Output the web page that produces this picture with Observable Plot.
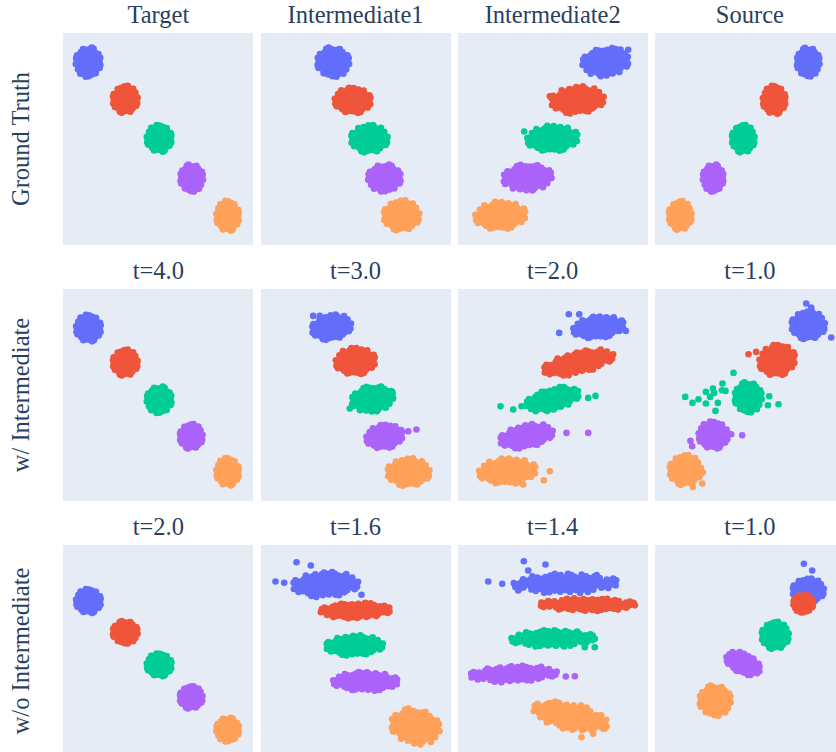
<!DOCTYPE html>
<html>
<head>
<meta charset="utf-8">
<script src="https://cdn.jsdelivr.net/npm/d3@7"></script>
<script src="https://cdn.jsdelivr.net/npm/@observablehq/plot@0.6"></script>
<style>
  html, body { margin: 0; padding: 0; overflow: hidden; background: #fff; }
  #grid { position: relative; width: 845px; height: 757px; }
  .panel { position: absolute; }
  .panel svg { display: block; }
  .label {
    position: absolute; white-space: nowrap; color: #2a3f5f;
    font-family: 'Liberation Serif', 'Times New Roman', serif; font-size: 24.5px; line-height: 24px;
  }
  .title { text-align: center; }
  .side { transform: translate(-50%, -50%) rotate(-90deg); }
</style>
</head>
<body>
<div id="grid"></div>
<script>
// Grid labels
const rowLabels = ["Ground Truth", "w/ Intermediate", "w/o Intermediate"];
const panelTitles = [
  ["Target", "Intermediate1", "Intermediate2", "Source"],
  ["t=4.0", "t=3.0", "t=2.0", "t=1.0"],
  ["t=2.0", "t=1.6", "t=1.4", "t=1.0"]
];

// One colour per mode (trace order: blue, red, green, purple, orange)
const modeColors = ["#636efa", "#ef553b", "#00cc96", "#ab63fa", "#ffa15a"];

// Per panel, per mode: [centre x, centre y, spread x, spread y, tilt]
const groundTruthClusters = [
  [[-7.03, 7.75, 1.17, 1.42, 0], [-3.33, 4.0, 1.17, 1.32, 0], [0.07, 0.1, 1.17, 1.3, 0], [3.32, -3.85, 1.07, 1.32, 0], [6.92, -7.65, 1.07, 1.47, 0]],
  [[-2.33, 7.75, 1.5, 1.42, 0], [-0.37, 3.9, 1.7, 1.24, 0], [1.28, 0.07, 1.72, 1.34, 0], [2.8, -3.85, 1.54, 1.32, 0], [4.5, -7.6, 1.67, 1.47, 0]],
  [[5.2, 7.75, 2.17, 1.35, 0.05], [2.4, 3.95, 2.47, 1.3, 0.05], [-0.1, 0.1, 2.37, 1.25, 0.05], [-2.6, -3.8, 2.27, 1.28, 0.05], [-5.3, -7.6, 2.37, 1.35, 0.05]],
  [[5.77, 7.75, 1.07, 1.4, 0], [2.37, 3.95, 1.07, 1.37, 0], [-0.73, 0.07, 1.07, 1.34, 0], [-3.73, -3.85, 0.97, 1.32, 0], [-7.03, -7.6, 1.07, 1.4, 0]]
];
const withIntermediateClusters = [
  [[-7.0, 6.73, 1.17, 1.3, 0], [-3.33, 3.28, 1.17, 1.27, 0], [0.07, -0.42, 1.17, 1.29, 0], [3.27, -4.1, 1.07, 1.2, 0], [6.92, -7.64, 1.07, 1.34, 0]],
  [[-2.5, 6.83, 1.84, 1.2, 0.1], [-0.1, 3.43, 1.85, 1.3, 0.05], [1.6, -0.34, 1.95, 1.25, 0.1], [2.8, -4.1, 1.7, 1.15, 0.1], [5.2, -7.67, 1.97, 1.34, 0]],
  [[4.5, 6.83, 2.37, 1.05, 0.1], [2.5, 3.28, 3.27, 1.05, 0.2], [-0.1, -0.37, 2.47, 1.05, 0.2], [-2.7, -4.07, 2.47, 1.1, 0.15], [-4.6, -7.57, 2.67, 1.25, 0.05]],
  [[5.77, 7.03, 1.57, 1.37, 0], [2.67, 3.53, 1.67, 1.5, 0.1], [-0.23, -0.17, 1.27, 1.47, 0], [-3.73, -3.97, 1.37, 1.32, 0], [-6.53, -7.47, 1.47, 1.47, 0]]
];
const withoutIntermediateClusters = [
  [[-7.0, 5.03, 1.17, 1.17, 0], [-3.33, 1.93, 1.17, 1.1, 0], [0.07, -1.35, 1.17, 1.12, 0], [3.27, -4.6, 1.07, 1.09, 0], [6.92, -7.8, 1.07, 1.17, 0]],
  [[-3.1, 6.7, 3.07, 1.2, 0.03], [-0.1, 4.1, 3.27, 0.75, 0.02], [-0.2, 0.6, 2.67, 0.97, 0.02], [0.9, -3.0, 3.04, 0.92, 0], [5.9, -7.5, 2.27, 1.7, -0.1]],
  [[1.2, 6.8, 4.87, 0.97, 0.02], [3.4, 4.7, 4.47, 0.62, 0], [-0.1, 1.3, 3.87, 0.82, 0.02], [-4.0, -2.25, 4.07, 0.77, 0.03], [1.7, -6.5, 3.47, 1.3, -0.2]],
  [[5.77, 6.1, 1.47, 1.17, 0], [5.27, 4.8, 0.92, 0.87, 0], [2.47, 1.6, 1.27, 1.32, 0], [-0.73, -1.2, 1.57, 1.0, -0.3], [-3.53, -4.9, 1.47, 1.47, 0]]
];

// Stray samples outside the cluster bodies: [row, column, mode, x, y]
const strayPoints = [
  [0, 2, 0, 6.7, 9.0], [0, 2, 0, 7.47, 8.97], [0, 2, 1, -0.37, 4.33], [0, 2, 2, -2.93, 0.8],
  [1, 1, 0, -4.33, 7.96], [1, 1, 0, -3.67, 7.96], [1, 1, 2, 3.57, 0.36], [1, 1, 2, -0.67, -1.3],
  [1, 1, 3, 5.17, -3.57], [1, 1, 3, 6.0, -3.4],
  [1, 2, 0, 0.57, 6.26], [1, 2, 0, 1.53, 8.13], [1, 2, 0, 2.57, 8.13], [1, 2, 0, 7.23, 6.46],
  [1, 2, 2, -5.3, -1.07], [1, 2, 2, -4.03, -1.4], [1, 2, 2, -3.2, -1.07], [1, 2, 2, 3.47, -0.24], [1, 2, 2, 4.2, -0.04],
  [1, 2, 3, 1.3, -3.74], [1, 2, 3, 3.47, -3.74],
  [1, 2, 4, -0.37, -7.57], [1, 2, 4, -0.97, -8.47], [1, 2, 4, -3.03, -8.9],
  [1, 3, 0, 5.57, 9.2], [1, 3, 0, 6.07, 8.8], [1, 3, 0, 8.07, 5.8],
  [1, 3, 1, -0.2, 4.13], [1, 3, 1, 0.57, 4.36],
  [1, 3, 2, -6.53, -0.14], [1, 3, 2, -5.8, -0.74], [1, 3, 2, -5.2, -0.37], [1, 3, 2, -4.46, 0.36],
  [1, 3, 2, -4.46, -0.8], [1, 3, 2, -4.03, -0.14], [1, 3, 2, -3.76, 0.7], [1, 3, 2, -3.63, 0.26],
  [1, 3, 2, -3.26, -0.74], [1, 3, 2, -3.5, -1.54], [1, 3, 2, -2.8, 1.2], [1, 3, 2, -2.86, 0.53],
  [1, 3, 2, -2.5, 0.46], [1, 3, 2, -1.7, 2.26], [1, 3, 2, 1.87, -0.07], [1, 3, 2, 1.74, -0.97], [1, 3, 2, 2.8, -0.87],
  [1, 3, 3, -0.83, -3.97], [1, 3, 3, -1.93, -3.87], [1, 3, 3, -6.0, -4.54], [1, 3, 3, -5.83, -5.07],
  [1, 3, 4, -4.76, -7.7], [1, 3, 4, -4.83, -8.8], [1, 3, 4, -5.76, -9.14],
  [2, 1, 0, -8.1, 7.0], [2, 1, 0, -7.23, 6.87], [2, 1, 0, -6.0, 8.93], [2, 1, 0, -4.57, 8.6], [2, 1, 0, 0.5, 5.67],
  [2, 2, 0, -6.53, 7.0], [2, 2, 0, -5.13, 6.77], [2, 2, 0, -2.97, 9.03], [2, 2, 0, -0.8, 8.7], [2, 2, 0, -3.53, 6.1], [2, 2, 0, -2.53, 8.1],
  [2, 2, 2, 4.13, 1.27], [2, 2, 2, 4.13, 0.43], [2, 2, 2, 3.13, 0.43],
  [2, 2, 3, 1.23, -2.5], [2, 2, 3, 2.13, -2.47],
  [2, 2, 4, 3.97, -8.23], [2, 2, 4, 4.97, -7.73], [2, 2, 4, 2.8, -8.57],
  [2, 3, 0, 5.34, 8.77], [2, 3, 0, 6.17, 8.1]
];

// Unit-disk layout used to spread each cluster's samples (ragged rim included)
const blobTemplate = [
  [0.02, 0.01], [-0.2, 0.03], [0.19, -0.02], [-0.41, -0.01], [0.41, 0.02], [-0.59, 0.02], [0.58, -0.03], [-0.78, -0.02], [0.79, 0.01], [-0.96, 0.03], [0.97, -0.02],
  [-0.91, 0.19], [-0.69, 0.16], [-0.52, 0.18], [-0.29, 0.15], [-0.11, 0.19], [0.12, 0.16], [0.31, 0.18], [0.49, 0.15], [0.72, 0.19], [0.9, 0.17],
  [-0.88, -0.18], [-0.71, -0.15], [-0.49, -0.19], [-0.31, -0.16], [-0.09, -0.18], [0.1, -0.15], [0.29, -0.19], [0.52, -0.17], [0.69, -0.16], [0.93, -0.19],
  [-0.82, 0.36], [-0.6, 0.33], [-0.41, 0.37], [-0.19, 0.34], [0.01, 0.36], [0.21, 0.33], [0.39, 0.37], [0.62, 0.34], [0.85, 0.31],
  [-0.86, -0.32], [-0.62, -0.36], [-0.39, -0.33], [-0.21, -0.37], [-0.02, -0.34], [0.18, -0.36], [0.41, -0.33], [0.6, -0.37], [0.8, -0.35],
  [-0.72, 0.5], [-0.49, 0.54], [-0.32, 0.51], [-0.1, 0.53], [0.11, 0.5], [0.29, 0.54], [0.51, 0.52], [0.7, 0.49],
  [-0.7, -0.54], [-0.51, -0.5], [-0.28, -0.53], [-0.12, -0.51], [0.09, -0.54], [0.31, -0.5], [0.48, -0.53], [0.74, -0.51],
  [-0.58, 0.67], [-0.41, 0.71], [-0.2, 0.68], [0.02, 0.7], [0.19, 0.67], [0.42, 0.71], [0.6, 0.68],
  [-0.61, -0.7], [-0.39, -0.67], [-0.22, -0.71], [-0.01, -0.68], [0.21, -0.7], [0.38, -0.66], [0.57, -0.69],
  [-0.31, 0.86], [-0.1, 0.89], [0.12, 0.85], [0.33, 0.88],
  [-0.33, -0.87], [-0.11, -0.84], [0.09, -0.89], [0.29, -0.85],
  [1.04, 0.22], [-1.03, -0.27], [0.64, 0.8], [-0.44, -0.92], [0.05, 1.0], [0.88, -0.56], [-0.87, 0.52],
  [0.98, 0.42], [-0.95, -0.47], [0.46, -0.93], [-0.68, 0.82], [1.03, -0.3], [-0.22, 1.03], [0.3, -1.01], [-1.06, 0.14]
];

const clusterSets = [groundTruthClusters, withIntermediateClusters, withoutIntermediateClusters];

// Samples in trace order so later modes sit on top of earlier ones
const samples = [];
modeColors.forEach((color, k) => {
  clusterSets.forEach((panels, row) => {
    panels.forEach((clusters, col) => {
      const [cx, cy, sx, sy, tilt] = clusters[k];
      const fu = (k + col) % 2 ? -1 : 1;
      const fv = (k + row) % 3 ? 1 : -1;
      for (const [u, v] of blobTemplate) {
        const du = sx * u * fu;
        samples.push({row, col, color, x: cx + du, y: cy + sy * v * fv + tilt * du});
      }
    });
  });
  strayPoints.filter(p => p[2] === k).forEach(([row, col, , x, y]) => samples.push({row, col, color, x, y}));
});

// Panel layout
const panelW = 190, panelH = 212;
const colLeft = [63.3, 260.5, 457.7, 654.9];
const rowTop = [33, 289.3, 545];

const grid = document.getElementById("grid");

rowTop.forEach((top, row) => {
  colLeft.forEach((left, col) => {
    const chart = Plot.plot({
      width: panelW,
      height: panelH,
      margin: 0,
      x: {domain: [-9.5, 9.5], axis: null},
      y: {domain: [-10.6, 10.6], axis: null},
      color: {type: "identity"},
      style: {background: "#e5ecf6", overflow: "hidden"},
      marks: [
        Plot.frame({fill: "#e5ecf6", stroke: "none"}),
        Plot.dot(samples.filter(d => d.row === row && d.col === col),
          {x: "x", y: "y", r: 3.3, fill: "color", stroke: "none"})
      ]
    });
    const box = document.createElement("div");
    box.className = "panel";
    box.style.left = left + "px";
    box.style.top = top + "px";
    box.appendChild(chart);
    grid.appendChild(box);

    const title = document.createElement("div");
    title.className = "label title";
    title.textContent = panelTitles[row][col];
    title.style.left = left + "px";
    title.style.width = panelW + "px";
    title.style.top = (top - 30) + "px";
    grid.appendChild(title);
  });

  const side = document.createElement("div");
  side.className = "label side";
  side.textContent = rowLabels[row];
  side.style.left = "21.2px";
  side.style.top = (top + panelH / 2) + "px";
  grid.appendChild(side);
});
</script>
</body>
</html>
